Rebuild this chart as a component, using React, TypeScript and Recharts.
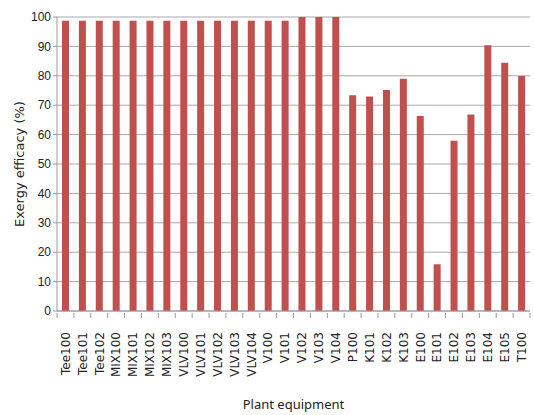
import { Bar, BarChart, CartesianGrid, Label, XAxis, YAxis } from "recharts"

const equipment = [
  "Tee100", "Tee101", "Tee102",
  "MIX100", "MIX101", "MIX102", "MIX103",
  "VLV100", "VLV101", "VLV102", "VLV103", "VLV104",
  "V100", "V101", "V102", "V103", "V104",
  "P100", "K101", "K102", "K103",
  "E100", "E101", "E102", "E103", "E104", "E105", "T100",
]

const efficacy = [
  98.7, 98.7, 98.7,
  98.7, 98.7, 98.7, 98.7,
  98.7, 98.7, 98.7, 98.7, 98.7,
  98.7, 98.7, 100, 100, 100,
  73.4, 73, 75.2, 79,
  66.3, 15.9, 57.9, 66.8, 90.4, 84.4, 79.9,
]

const yTicks = [0, 10, 20, 30, 40, 50, 60, 70, 80, 90, 100]

const data = equipment.map((name, i) => ({ name, value: efficacy[i] }))

const axisColor = "#9a9a9a"

// rotated category label plus a tick mark on the band boundary
function EquipmentTick(props: any) {
  const { x, y, payload, index } = props
  const half = payload.offset ?? 0
  const left = x - half
  const isLast = index === equipment.length - 1
  return (
    <g>
      <line x1={left} y1={y - 5} x2={left} y2={y} stroke={axisColor} />
      {isLast && <line x1={x + half} y1={y - 5} x2={x + half} y2={y} stroke={axisColor} />}
      <text
        transform={`translate(${x},${y + 14}) rotate(-90)`}
        textAnchor="end"
        dy="0.36em"
        fontFamily="DejaVu Sans"
        fontSize={12}
        fill="#222"
      >
        {payload.value}
      </text>
    </g>
  )
}

export default function App() {
  return (
    <div style={{ position: "absolute", left: 0, top: 0, background: "#fff" }}>
      <BarChart
        width={534}
        height={415}
        data={data}
        margin={{ top: 17, right: 4, left: 17, bottom: 0 }}
        barSize={7}
      >
        <CartesianGrid vertical={false} stroke="#a8a8a8" />
        <XAxis
          dataKey="name"
          interval={0}
          height={104}
          tickLine={false}
          tickSize={5}
          stroke={axisColor}
          tick={<EquipmentTick />}
        >
          <Label
            content={({ viewBox }: any) => (
              <text
                x={viewBox.x + viewBox.width / 2}
                y={viewBox.y + 93}
                textAnchor="middle"
                dominantBaseline="central"
                fontFamily="Noto Sans"
                fontSize={13}
                fill="#222"
              >
                Plant equipment
              </text>
            )}
          />
        </XAxis>
        <YAxis
          width={40}
          domain={[0, 100]}
          ticks={yTicks}
          interval={0}
          tickSize={4}
          tickMargin={2}
          stroke={axisColor}
          tick={{ fill: "#222", fontSize: 12, fontFamily: "Liberation Sans" }}
        >
          <Label
            content={({ viewBox }: any) => (
              <text
                transform={`translate(${viewBox.x + 2},${viewBox.y + viewBox.height / 2}) rotate(-90)`}
                textAnchor="middle"
                dominantBaseline="central"
                fontFamily="DejaVu Sans"
                fontSize={13}
                fill="#222"
              >
                Exergy efficacy (%)
              </text>
            )}
          />
        </YAxis>
        <Bar dataKey="value" fill="#c0504d" isAnimationActive={false} />
      </BarChart>
    </div>
  )
}
